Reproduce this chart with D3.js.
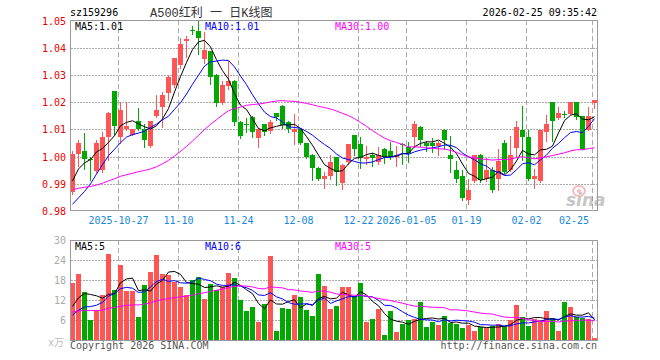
<!DOCTYPE html>
<html lang="zh">
<head>
<meta charset="UTF-8">
<title>sz159296 日K线图</title>
<script src="https://d3js.org/d3.v7.min.js"></script>
<style>
  body { margin: 0; background: #fff; }
  svg text { font-family: "DejaVu Sans Mono", "Liberation Mono", monospace; font-size: 10px; }
</style>
</head>
<body>
<script>
// trading days shown (2025-10-15 .. 2026-02-25)
var dates = ("10-15 10-16 10-17 10-20 10-21 10-22 10-23 10-24 10-27 10-28 10-29 10-30 10-31 " +
  "11-03 11-04 11-05 11-06 11-07 11-10 11-11 11-12 11-13 11-14 11-17 11-18 11-19 11-20 11-21 11-24 11-25 11-26 11-27 11-28 " +
  "12-01 12-02 12-03 12-04 12-05 12-08 12-09 12-10 12-11 12-12 12-15 12-16 12-17 12-18 12-19 12-22 12-23 12-24 12-25 12-26 12-29 12-30 12-31 " +
  "01-05 01-06 01-07 01-08 01-09 01-12 01-13 01-14 01-15 01-16 01-19 01-20 01-21 01-22 01-23 01-26 01-27 01-28 01-29 01-30 " +
  "02-02 02-03 02-04 02-05 02-06 02-09 02-10 02-11 02-12 02-13 02-24 02-25").split(" ");

var opens = [0.9871,1.0012,1.0021,0.9993,0.9949,0.9951,1.0074,1.0243,1.0074,1.0105,1.0083,1.0132,1.0105,1.0041,1.0152,1.0185,1.0234,1.0265,1.0339,1.0427,
  1.0467,1.0464,1.0362,1.0390,1.0302,1.0199,1.0263,1.0281,1.0130,1.0121,1.0149,1.0070,1.0120,1.0095,1.0161,1.0189,1.0130,1.0092,1.0104,1.0051,
  1.0009,0.9960,0.9921,0.9930,0.9999,0.9903,0.9982,1.0080,1.0049,0.9992,1.0006,0.9982,1.0031,1.0021,1.0000,1.0049,1.0037,1.0073,1.0112,1.0051,
  1.0051,1.0040,1.0101,1.0009,0.9951,0.9930,0.9841,0.9911,1.0009,0.9921,0.9951,0.9921,1.0051,0.9951,1.0033,1.0101,1.0073,0.9918,0.9911,1.0092,
  1.0201,1.0143,1.0157,1.0160,1.0201,1.0150,1.0101,1.0199];
var highs = [1.0021,1.0061,1.0090,1.0000,1.0062,1.0093,1.0167,1.0243,1.0201,1.0201,1.0103,1.0181,1.0120,1.0132,1.0228,1.0240,1.0302,1.0366,1.0440,1.0447,
  1.0482,1.0501,1.0462,1.0392,1.0304,1.0281,1.0354,1.0283,1.0132,1.0143,1.0151,1.0108,1.0122,1.0138,1.0163,1.0191,1.0132,1.0160,1.0106,1.0053,
  1.0011,0.9962,0.9945,1.0009,1.0000,0.9976,1.0049,1.0082,1.0073,1.0039,1.0014,1.0036,1.0033,1.0057,1.0040,1.0053,1.0055,1.0131,1.0114,1.0058,
  1.0070,1.0058,1.0103,1.0077,0.9984,0.9951,0.9921,1.0009,1.0011,0.9996,0.9963,1.0031,1.0061,1.0079,1.0131,1.0189,1.0098,0.9957,1.0101,1.0153,
  1.0203,1.0183,1.0168,1.0202,1.0203,1.0152,1.0185,1.0211];
var lows = [0.9865,0.9968,0.9955,0.9914,0.9945,0.9945,0.9988,1.0080,1.0050,1.0099,1.0080,1.0099,1.0037,1.0037,1.0148,1.0111,1.0210,1.0259,1.0326,1.0370,
  1.0453,1.0381,1.0345,1.0269,1.0187,1.0196,1.0251,1.0119,1.0070,1.0094,1.0073,1.0037,1.0080,1.0090,1.0138,1.0107,1.0092,1.0049,1.0049,0.9998,
  0.9917,0.9915,0.9886,0.9920,0.9896,0.9884,0.9976,1.0006,0.9960,0.9976,0.9967,0.9976,0.9979,0.9994,0.9967,0.9976,0.9983,1.0037,1.0040,1.0021,
  1.0019,1.0009,1.0031,0.9945,0.9910,0.9841,0.9829,0.9908,0.9908,0.9911,0.9870,0.9878,0.9940,0.9948,1.0000,0.9988,0.9914,0.9886,0.9909,1.0058,
  1.0058,1.0141,1.0146,1.0158,1.0140,1.0031,1.0099,1.0179];
var closes = [1.0010,1.0051,0.9992,0.9991,1.0051,1.0074,1.0162,1.0115,1.0173,1.0115,1.0103,1.0105,1.0062,1.0132,1.0173,1.0230,1.0296,1.0366,1.0415,1.0435,
  1.0466,1.0438,1.0394,1.0294,1.0199,1.0265,1.0281,1.0130,1.0079,1.0119,1.0092,1.0104,1.0092,1.0130,1.0147,1.0118,1.0104,1.0104,1.0051,1.0000,
  0.9958,0.9921,0.9930,0.9982,0.9945,0.9970,1.0049,1.0031,0.9996,1.0000,0.9996,1.0009,1.0000,1.0000,1.0009,1.0043,1.0016,1.0122,1.0061,1.0039,
  1.0040,1.0051,1.0061,0.9992,0.9918,0.9850,0.9878,1.0009,0.9915,0.9951,0.9878,0.9984,0.9945,1.0009,1.0112,1.0073,0.9918,0.9929,1.0101,1.0122,
  1.0131,1.0161,1.0155,1.0201,1.0149,1.0031,1.0150,1.0211];
// volume, 万手
var volumes = [17.3,20.0,14.5,6.1,9.1,13.6,26.0,15.3,22.7,14.8,14.8,7.1,16.7,20.6,25.7,20.0,19.8,17.6,16.1,13.6,
  18.2,19.1,12.5,17.0,15.3,16.1,20.3,18.8,12.1,8.9,10.1,5.5,11.0,25.3,2.8,9.8,9.5,13.6,13.0,9.2,
  7.3,20.0,16.5,9.4,10.3,16.1,16.1,13.3,17.3,5.6,6.4,9.4,1.6,8.8,2.6,4.9,6.1,6.3,11.5,4.1,
  5.6,4.6,7.3,5.2,4.9,3.8,4.6,2.9,4.1,3.8,4.3,4.9,4.3,6.1,10.6,6.9,4.3,6.3,6.1,8.8,
  6.6,2.8,11.5,10.1,6.9,6.6,6.3,0.8];
// estimated sessions before the window, so the averages start where the picture's lines start
var earlierClose = [0.990,0.988,0.991,0.989,0.987,0.990,0.988,0.991,0.993,0.995,0.992,0.994,0.996,0.993,0.990,
  0.992,0.989,0.991,0.988,0.987,0.981,0.976,0.971,0.969,0.973,0.983,0.988,0.993,0.991];
var earlierVolume = [9,10,8,9,11,8,9,10,8,9,9,8,10,9,8,9,10,8,9,8,5.5,4.5,5.0,5.0,5.0,7.0,8.0,7.6,11.1];

var priceTicks = [1.05,1.04,1.03,1.02,1.01,1.00,0.99,0.98];
var volTicks = [30,24,18,12,6];
var dateTicks = [[8,"2025-10-27"],[18,"11-10"],[28,"11-24"],[38,"12-08"],[48,"12-22"],[56,"2026-01-05"],[66,"01-19"],[76,"02-02"],[87,"02-25"]];
var priceLegend = ["MA5:1.01","MA10:1.01","MA30:1.00"];
var volLegend = ["MA5:5","MA10:6","MA30:5"];
var maColors = ["#000000","#0000ff","#ff00ff"];

var RED = "#ff5555", GREEN = "#00a800";

function movingAvg(prev, vals, n) {
  var all = prev.concat(vals), out = [];
  for (var i = prev.length; i < all.length; i++) {
    out.push(d3.mean(all.slice(i - n + 1, i + 1)));
  }
  return out;
}

var svg = d3.select("body").append("svg")
  .attr("width", 660).attr("height", 360);

var x = d3.scaleBand().domain(d3.range(dates.length)).range([70, 598]);
var y = d3.scaleLinear().domain([0.98, 1.05]).range([211.4, 21.2]);
var yv = d3.scaleLinear().domain([0, 30]).range([340.3, 240.7]);

// header
svg.append("text").attr("x", 70).attr("y", 16).attr("fill", "#000").text("sz159296");
svg.append("text").attr("x", 150).attr("y", 17).attr("fill", "#333")
  .style("font-family", "'Liberation Mono','Noto Sans CJK SC',monospace").style("font-size", "12px")
  .text("A500红利 一 日K线图");
svg.append("text").attr("x", 597).attr("y", 16).attr("text-anchor", "end").attr("fill", "#000")
  .text("2026-02-25 09:35:42");

// grid lines
function hgrid(ticks, scale, x0, x1) {
  svg.append("g").selectAll("line").data(ticks).enter().append("line")
    .attr("x1", x0).attr("x2", x1)
    .attr("y1", d => Math.floor(scale(d)) + 0.5).attr("y2", d => Math.floor(scale(d)) + 0.5)
    .attr("stroke", "#aaa").attr("stroke-dasharray", "2,1");
}
hgrid(priceTicks.slice(1, -1), y, 71, 597);
hgrid(volTicks.slice(1), yv, 71, 597);

[[20, 211], [240, 340]].forEach(function (r) {
  svg.append("g").selectAll("line").data(dateTicks).enter().append("line")
    .attr("x1", d => x(d[0]) + 0.5).attr("x2", d => x(d[0]) + 0.5)
    .attr("y1", r[0]).attr("y2", r[1])
    .attr("stroke", "#aaa").attr("stroke-dasharray", "5,3");
});

// price axis labels
svg.append("g").selectAll("text").data(priceTicks).enter().append("text")
  .attr("x", 66).attr("y", d => y(d) + 3.5).attr("text-anchor", "end")
  .attr("fill", "#e80000").text(d => d.toFixed(2));

// volume axis labels
svg.append("g").selectAll("text").data(volTicks).enter().append("text")
  .attr("x", 66).attr("y", d => yv(d) + 3.5).attr("text-anchor", "end")
  .attr("fill", "#aaa").text(d => d);
svg.append("text").attr("x", 64).attr("y", 346).attr("text-anchor", "end")
  .attr("fill", "#bbb").style("font-family", "'Liberation Mono','Noto Sans CJK SC',monospace")
  .text("x万");

// date labels
svg.append("g").selectAll("text").data(dateTicks).enter().append("text")
  .attr("x", d => d[0] == dates.length - 1 ? 589 : x(d[0]) + 0.5)
  .attr("y", 224)
  .attr("text-anchor", d => d[0] == dates.length - 1 ? "end" : "middle")
  .attr("fill", "#1688dd").text(d => d[1]);

// watermark
var wm = svg.append("g").attr("opacity", 0.55);
wm.append("ellipse").attr("cx", 579).attr("cy", 191).attr("rx", 6).attr("ry", 5)
  .attr("fill", "none").attr("stroke", "#e88").attr("stroke-width", 2);
wm.append("circle").attr("cx", 579).attr("cy", 191).attr("r", 2).attr("fill", "#e88");
wm.append("text").attr("x", 566).attr("y", 206).attr("fill", "#999")
  .style("font-family", "'DejaVu Sans',sans-serif").style("font-size", "17px")
  .style("font-weight", "bold").style("font-style", "italic").text("sina");

// candles
var idx = d3.range(dates.length);
var candles = svg.append("g").attr("shape-rendering", "crispEdges");
candles.selectAll("line").data(idx).enter().append("line")
  .attr("x1", i => x(i) + 2.5).attr("x2", i => x(i) + 2.5)
  .attr("y1", i => Math.round(y(highs[i]))).attr("y2", i => Math.round(y(lows[i])) + 1)
  .attr("stroke", i => closes[i] >= opens[i] ? RED : GREEN);
candles.selectAll("rect").data(idx).enter().append("rect")
  .attr("x", i => x(i)).attr("width", x.step() - 1)
  .attr("y", i => Math.round(y(Math.max(opens[i], closes[i]))))
  .attr("height", i => Math.max(1, Math.round(y(Math.min(opens[i], closes[i]))) - Math.round(y(Math.max(opens[i], closes[i])))))
  .attr("fill", i => closes[i] >= opens[i] ? RED : GREEN);

// volume bars
svg.append("g").attr("shape-rendering", "crispEdges").selectAll("rect").data(idx).enter().append("rect")
  .attr("x", i => x(i)).attr("width", x.step() - 1)
  .attr("y", i => Math.round(yv(volumes[i])))
  .attr("height", i => 340 - Math.round(yv(volumes[i])))
  .attr("fill", i => closes[i] >= opens[i] ? RED : GREEN);

// moving averages
[5, 10, 30].forEach(function (n, k) {
  var pm = movingAvg(earlierClose, closes, n);
  var vm = movingAvg(earlierVolume, volumes, n);
  var lp = d3.line().x((d, i) => x(i) + 2.5).y(d => y(d));
  var lv = d3.line().x((d, i) => x(i) + 2.5).y(d => yv(d));
  svg.append("path").attr("d", lp(pm)).attr("fill", "none").attr("stroke", maColors[k]).attr("stroke-width", 1);
  svg.append("path").attr("d", lv(vm)).attr("fill", "none").attr("stroke", maColors[k]).attr("stroke-width", 1);
});

// legends
var legX = [75, 205, 335];
priceLegend.forEach(function (t, k) {
  svg.append("text").attr("x", legX[k]).attr("y", 30).attr("fill", maColors[k]).text(t);
});
volLegend.forEach(function (t, k) {
  svg.append("text").attr("x", legX[k]).attr("y", 250).attr("fill", maColors[k]).text(t);
});

// frames
svg.append("rect").attr("x", 70.5).attr("y", 20.5).attr("width", 527).attr("height", 190)
  .attr("fill", "none").attr("stroke", "#999");
svg.append("rect").attr("x", 70.5).attr("y", 240.5).attr("width", 527).attr("height", 100)
  .attr("fill", "none").attr("stroke", "#999");

// footer
svg.append("text").attr("x", 70).attr("y", 349).attr("fill", "#555").text("Copyright 2026 SINA.COM");
svg.append("text").attr("x", 597).attr("y", 349).attr("text-anchor", "end").attr("fill", "#555")
  .text("http://finance.sina.com.cn");
</script>
</body>
</html>
